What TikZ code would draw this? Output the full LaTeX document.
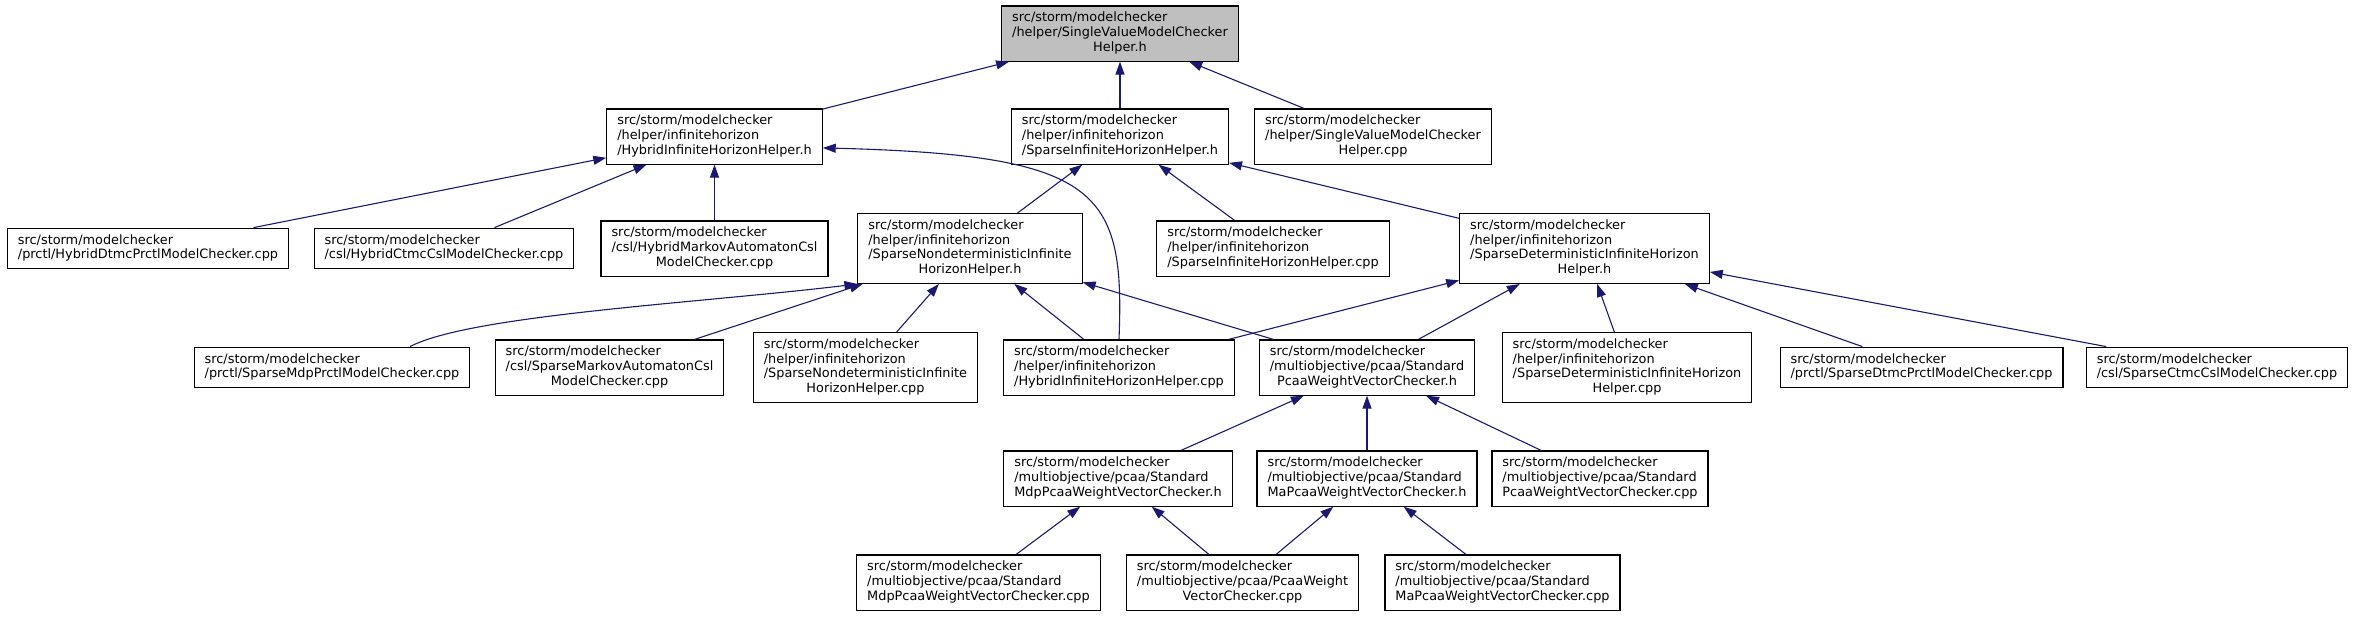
\documentclass[tikz,border=0pt]{standalone}
\usepackage{fontspec}
\setmainfont{DejaVu Sans}
\usepackage{xcolor}
\usetikzlibrary{arrows.meta}
\definecolor{edgeblue}{HTML}{191970}
\definecolor{rootgray}{HTML}{BFBFBF}
\newcommand{\flines}[1]{\begin{tabular}{@{}l@{}}#1\end{tabular}}
\newcommand{\lastln}[1]{\multicolumn{1}{@{}c@{}}{#1}}

\begin{document}
\begin{tikzpicture}[x=1pt,y=-1pt,
  file/.style={draw=black,line width=1.2pt,fill=white,inner xsep=10.5pt,inner ysep=5.7pt,
    font=\fontsize{12.87}{14.6}\selectfont},
  root/.style={file,fill=rootgray},
  incl/.style={draw=edgeblue,line width=1.1pt,-{Triangle[length=12.9pt,width=9pt]}}]
\useasboundingbox (0,0) rectangle (2358,616);
%顶层
\node[root] (top) at (1120,33.5) {\flines{src/storm/modelchecker\\/helper/SingleValueModelChecker\\\lastln{Helper.h}}};
%第二层
\node[file] (hybh) at (714.5,136.5) {\flines{src/storm/modelchecker\\/helper/infinitehorizon\\\lastln{/HybridInfiniteHorizonHelper.h}}};
\node[file] (sihh) at (1120,136.5) {\flines{src/storm/modelchecker\\/helper/infinitehorizon\\\lastln{/SparseInfiniteHorizonHelper.h}}};
\node[file] (svcpp) at (1373,136.5) {\flines{src/storm/modelchecker\\/helper/SingleValueModelChecker\\\lastln{Helper.cpp}}};
%第三层
\node[file] (hdtmc) at (148,248.5) {\flines{src/storm/modelchecker\\\lastln{/prctl/HybridDtmcPrctlModelChecker.cpp}}};
\node[file] (hctmc) at (444,248.5) {\flines{src/storm/modelchecker\\\lastln{/csl/HybridCtmcCslModelChecker.cpp}}};
\node[file] (hma) at (714.5,248.5) {\flines{src/storm/modelchecker\\/csl/HybridMarkovAutomatonCsl\\\lastln{ModelChecker.cpp}}};
\node[file] (sndh) at (970,248.5) {\flines{src/storm/modelchecker\\/helper/infinitehorizon\\/SparseNondeterministicInfinite\\\lastln{HorizonHelper.h}}};
\node[file] (sihcpp) at (1273,248.5) {\flines{src/storm/modelchecker\\/helper/infinitehorizon\\\lastln{/SparseInfiniteHorizonHelper.cpp}}};
\node[file] (sdeth) at (1584.5,248.5) {\flines{src/storm/modelchecker\\/helper/infinitehorizon\\/SparseDeterministicInfiniteHorizon\\\lastln{Helper.h}}};
%第四层
\node[file] (smdp) at (332,367.5) {\flines{src/storm/modelchecker\\\lastln{/prctl/SparseMdpPrctlModelChecker.cpp}}};
\node[file] (sma) at (609.5,367.5) {\flines{src/storm/modelchecker\\/csl/SparseMarkovAutomatonCsl\\\lastln{ModelChecker.cpp}}};
\node[file] (sndcpp) at (865.5,367.5) {\flines{src/storm/modelchecker\\/helper/infinitehorizon\\/SparseNondeterministicInfinite\\\lastln{HorizonHelper.cpp}}};
\node[file] (hihcpp) at (1119,367.5) {\flines{src/storm/modelchecker\\/helper/infinitehorizon\\\lastln{/HybridInfiniteHorizonHelper.cpp}}};
\node[file] (pwh) at (1367,367.5) {\flines{src/storm/modelchecker\\/multiobjective/pcaa/Standard\\\lastln{PcaaWeightVectorChecker.h}}};
\node[file] (sdetcpp) at (1627,367.5) {\flines{src/storm/modelchecker\\/helper/infinitehorizon\\/SparseDeterministicInfiniteHorizon\\\lastln{Helper.cpp}}};
\node[file] (sdtmc) at (1921.5,367.5) {\flines{src/storm/modelchecker\\\lastln{/prctl/SparseDtmcPrctlModelChecker.cpp}}};
\node[file] (sctmc) at (2217,367.5) {\flines{src/storm/modelchecker\\\lastln{/csl/SparseCtmcCslModelChecker.cpp}}};
%第五层
\node[file] (mdph) at (1118,478.5) {\flines{src/storm/modelchecker\\/multiobjective/pcaa/Standard\\\lastln{MdpPcaaWeightVectorChecker.h}}};
\node[file] (mah) at (1367,478.5) {\flines{src/storm/modelchecker\\/multiobjective/pcaa/Standard\\\lastln{MaPcaaWeightVectorChecker.h}}};
\node[file] (pwcpp) at (1600,478.5) {\flines{src/storm/modelchecker\\/multiobjective/pcaa/Standard\\\lastln{PcaaWeightVectorChecker.cpp}}};
%底层
\node[file] (mdpcpp) at (978.5,582.5) {\flines{src/storm/modelchecker\\/multiobjective/pcaa/Standard\\\lastln{MdpPcaaWeightVectorChecker.cpp}}};
\node[file] (pwvcpp) at (1242.5,582.5) {\flines{src/storm/modelchecker\\/multiobjective/pcaa/PcaaWeight\\\lastln{VectorChecker.cpp}}};
\node[file] (macpp) at (1502.5,582.5) {\flines{src/storm/modelchecker\\/multiobjective/pcaa/Standard\\\lastln{MaPcaaWeightVectorChecker.cpp}}};

%连线
\draw[incl] (hybh)--(top);
\draw[incl] (sihh)--(top);
\draw[incl] (svcpp)--(top);

\draw[incl] (hdtmc)--(hybh);
\draw[incl] (hctmc)--(hybh);
\draw[incl] (hma)--(hybh);
\draw[incl] (hihcpp.north) .. controls (1125,190) and (1100,155) .. (hybh.-6);

\draw[incl] (sndh)--(sihh);
\draw[incl] (sihcpp)--(sihh);
\draw[incl] (sdeth)--(sihh);

\draw[incl] (smdp.15) .. controls (470,315) and (700,303) .. (sndh.south west);
\draw[incl] (sma)--(sndh);
\draw[incl] (sndcpp)--(sndh);
\draw[incl] (hihcpp)--(sndh);
\draw[incl] (pwh)--(sndh);

\draw[incl] (hihcpp)--(sdeth);
\draw[incl] (pwh)--(sdeth);
\draw[incl] (sdetcpp)--(sdeth);
\draw[incl] (sdtmc)--(sdeth);
\draw[incl] (sctmc)--(sdeth);

\draw[incl] (mdph)--(pwh);
\draw[incl] (mah)--(pwh);
\draw[incl] (pwcpp)--(pwh);

\draw[incl] (mdpcpp)--(mdph);
\draw[incl] (pwvcpp)--(mdph);
\draw[incl] (pwvcpp)--(mah);
\draw[incl] (macpp)--(mah);
\end{tikzpicture}
\end{document}
